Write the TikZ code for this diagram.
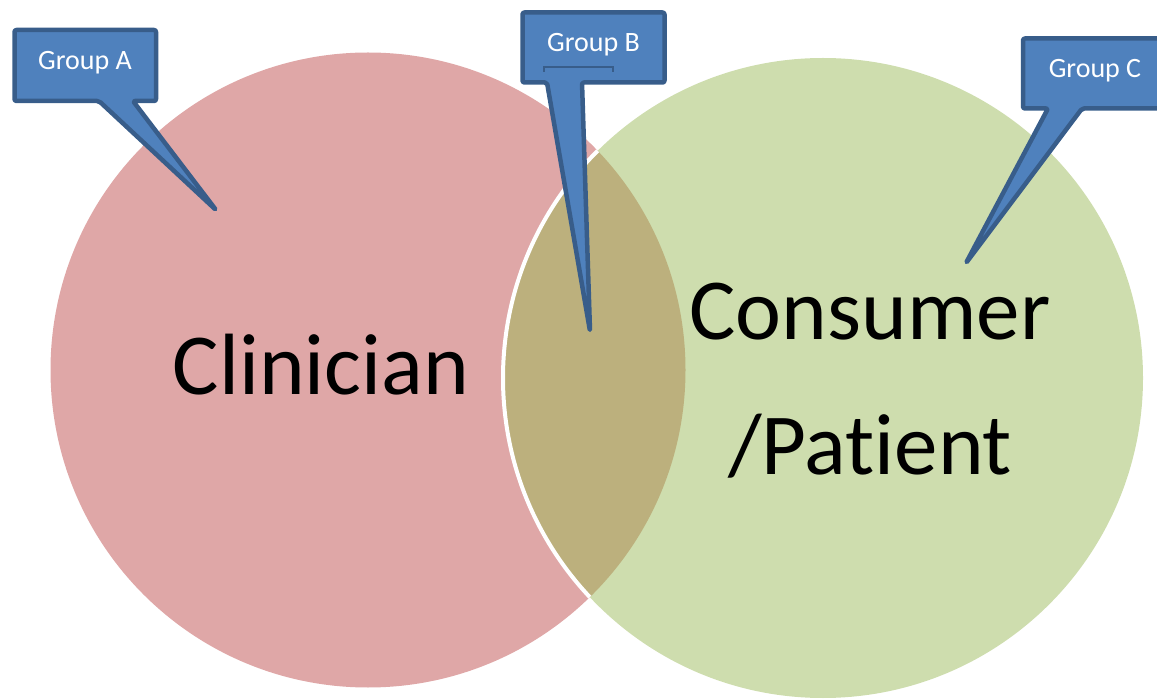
\documentclass[tikz,border=0pt]{standalone}
\usepackage{fontspec}
\setmainfont[Ligatures=NoCommon]{Carlito}
\definecolor{redc}{HTML}{DFA7A7}
\definecolor{greenc}{HTML}{CEDDAE}
\definecolor{olivec}{HTML}{BCB07D}
\definecolor{callfill}{HTML}{4F81BD}
\definecolor{calldraw}{HTML}{385D8A}
\tikzset{
  callout/.style={fill=callfill, draw=calldraw, line width=4.5pt, line join=round, rounded corners=2pt},
  grouplabel/.style={text=white, font=\fontsize{28}{32}\selectfont, anchor=base, inner sep=0pt},
  biglabel/.style={text=black, font=\fontsize{87}{100}\selectfont, anchor=base, inner sep=0pt}
}
\begin{document}
\begin{tikzpicture}[x=1pt,y=-1pt]
\useasboundingbox (0,0) rectangle (1157,700);
% circles
\coordinate (rc) at (368,370);
\coordinate (gc) at (823,378);
\fill[redc] (rc) circle (317.5pt);
\fill[greenc] (gc) circle (320pt);
\begin{scope}
  \clip (rc) circle (317.5pt);
  \fill[olivec] (gc) circle (320pt);
  \draw[white, line width=4pt] (gc) circle (320pt);
\end{scope}
% labels
\node[biglabel] (clin) at (321,395) {Clinician};
\node[biglabel] (cons) at (870,340) {Consumer};
\node[biglabel] (pat) at (870,475) {/Patient};
% callout A
\coordinate (tipA) at (216,210);
\draw[callout] (14.5,30) -- (156,30) -- (156,101) -- (133,101) -- (tipA) -- (99,101) -- (14.5,101) -- cycle;
\node[grouplabel] (ga) at (85,70) {Group A};
% callout B
\coordinate (tipB) at (590,331);
\draw[callout] (522.5,12.5) -- (664.5,12.5) -- (664.5,82.5) -- (582,82.5) -- (tipB) -- (547,82.5) -- (522.5,82.5) -- cycle;
\draw[calldraw, line width=2pt] (544,72) -- (544,67.5) -- (613,67.5) -- (613,72);
\node[grouplabel] (gb) at (593.5,52) {Group B};
% callout C
\coordinate (tipC) at (966,263);
\draw[callout] (1023,38.5) -- (1170,38.5) -- (1170,108.5) -- (1082,108.5) -- (tipC) -- (1048,108.5) -- (1023,108.5) -- cycle;
\node[grouplabel] (gcl) at (1095,78) {Group C};
\end{tikzpicture}
\end{document}
